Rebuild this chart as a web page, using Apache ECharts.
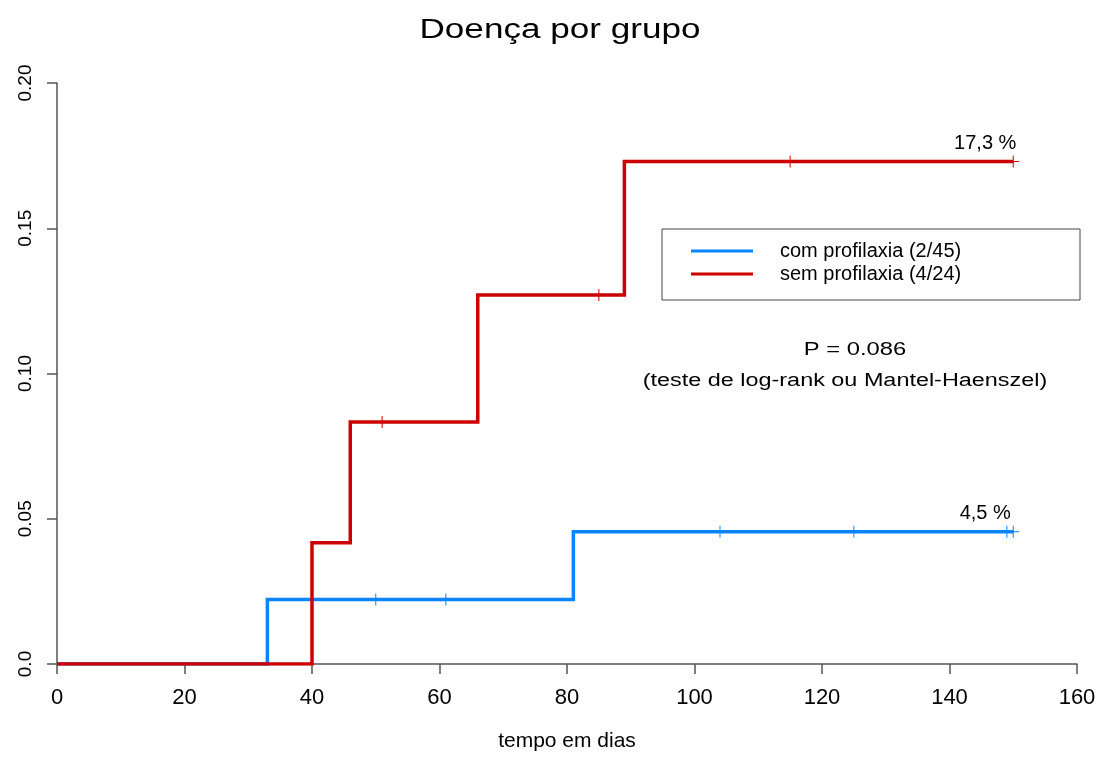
<!DOCTYPE html>
<html>
<head>
<meta charset="utf-8">
<script src="https://cdn.jsdelivr.net/npm/echarts@6/dist/echarts.min.js"></script>
<style>html,body{margin:0;padding:0;background:#fff;overflow:hidden;}#c{width:1104px;height:757px;}</style>
</head>
<body>
<div id="c"></div>
<script>
// Kaplan-Meier cumulative incidence steps
const blueName = 'com profilaxia (2/45)';
const redName = 'sem profilaxia (4/24)';
const blueTimes = [0, 33, 81, 150];
const blueValues = [0, 0.0222, 0.0455, 0.0455];
const redTimes = [0, 40, 46, 66, 89, 150];
const redValues = [0, 0.0417, 0.0833, 0.127, 0.173, 0.173];
// censoring marks
const blueCensorTimes = [50, 61, 104, 125, 149, 150];
const blueCensorValues = [0.0222, 0.0222, 0.0455, 0.0455, 0.0455, 0.0455];
const redCensorTimes = [51, 85, 115, 150];
const redCensorValues = [0.0833, 0.127, 0.173, 0.173];
// axis ticks
const xTicks = [0, 20, 40, 60, 80, 100, 120, 140, 160];
const yTicks = [0, 0.05, 0.10, 0.15, 0.20];
const yTickLabels = ['0.0', '0.05', '0.10', '0.15', '0.20'];
const endLabels = ['4,5 %', '17,3 %'];
const titleText = 'Doença por grupo';
const pText = 'P = 0.086';
const testText = '(teste de log-rank ou Mantel-Haenszel)';

const zip = (a, b) => a.map((v, i) => [v, b[i]]);
const FONT = '"Liberation Sans", Arial, sans-serif';
const BLUE = '#0a84ff';
const RED = '#cc0000';
const TXT = '#000';
const plus = 'path://M5.5,0 L6.5,0 L6.5,5.5 L12,5.5 L12,6.5 L6.5,6.5 L6.5,12 L5.5,12 L5.5,6.5 L0,6.5 L0,5.5 L5.5,5.5 Z';

const chart = echarts.init(document.getElementById('c'), null, {renderer: 'canvas', width: 1104, height: 757});
chart.setOption({
  animation: false,
  backgroundColor: '#fff',
  grid: {left: 57, top: 83, width: 1020, height: 586, containLabel: false},
  legend: {
    data: [blueName, redName],
    orient: 'vertical',
    left: 662,
    top: 229,
    icon: 'rect',
    itemWidth: 62,
    itemHeight: 3,
    itemGap: 3,
    padding: [12, 85, 16, 29],
    borderColor: '#444',
    borderWidth: 1,
    textStyle: {fontFamily: FONT, fontSize: 20, color: TXT, lineHeight: 20, width: 215,
      padding: [0, 0, 0, 22]}
  },
  xAxis: {
    type: 'value',
    min: 0, max: 160, interval: 20,
    name: 'tempo em dias',
    nameLocation: 'middle',
    nameGap: 67,
    nameTextStyle: {fontFamily: FONT, fontSize: 21, color: TXT},
    axisLine: {show: true, onZero: false, lineStyle: {color: '#555', width: 1.5}},
    axisTick: {show: true, length: 10, lineStyle: {color: '#555', width: 1.5}},
    axisLabel: {fontFamily: FONT, fontSize: 22, color: TXT, margin: 23,
      formatter: v => xTicks.includes(v) ? String(v) : ''},
    splitLine: {show: false}
  },
  yAxis: {
    type: 'value',
    min: 0, max: 0.2, interval: 0.05,
    axisLine: {show: true, lineStyle: {color: '#555', width: 1.5}},
    axisTick: {show: true, length: 10, lineStyle: {color: '#555', width: 1.5}},
    axisLabel: {fontFamily: FONT, fontSize: 19, color: TXT, margin: 22, rotate: 90,
      formatter: v => {
        const i = yTicks.findIndex(t => Math.abs(t - v) < 1e-9);
        return i >= 0 ? yTickLabels[i] : '';
      }},
    splitLine: {show: false}
  },
  series: [
    {
      name: blueName, type: 'line', step: 'end',
      data: zip(blueTimes, blueValues),
      showSymbol: false, symbol: 'none',
      color: BLUE,
      lineStyle: {color: BLUE, width: 3.5, join: 'miter'},
      z: 3
    },
    {
      name: redName, type: 'line', step: 'end',
      data: zip(redTimes, redValues),
      showSymbol: false, symbol: 'none',
      color: RED,
      lineStyle: {color: RED, width: 3.5, join: 'miter'},
      z: 4
    },
    {
      name: 'blueCensor', type: 'scatter',
      data: zip(blueCensorTimes, blueCensorValues),
      symbol: plus, symbolSize: 12,
      itemStyle: {color: BLUE, opacity: 1},
      z: 5
    },
    {
      name: 'redCensor', type: 'scatter',
      data: zip(redCensorTimes, redCensorValues),
      symbol: plus, symbolSize: 12,
      itemStyle: {color: RED, opacity: 1},
      z: 6
    },
    {
      name: 'endLabels', type: 'scatter',
      data: [
        {value: [blueTimes[blueTimes.length - 1], blueValues[blueValues.length - 1]], label: {formatter: endLabels[0]}},
        {value: [redTimes[redTimes.length - 1], redValues[redValues.length - 1]], label: {formatter: endLabels[1]}}
      ],
      symbolSize: 0,
      silent: true,
      label: {show: true, position: 'top', distance: 8, offset: [-28, 0],
        fontFamily: FONT, fontSize: 20, color: TXT, opacity: 1},
      z: 7
    }
  ],
  graphic: [
    {type: 'text', x: 560, y: 31, scaleX: 1.3,
      style: {text: titleText, fontFamily: FONT, fontSize: 27, fill: TXT, align: 'center', verticalAlign: 'middle'}},
    {type: 'text', x: 855, y: 350, scaleX: 1.32,
      style: {text: pText, fontFamily: FONT, fontSize: 18, fill: TXT, align: 'center', verticalAlign: 'middle'}},
    {type: 'text', x: 845, y: 381, scaleX: 1.3,
      style: {text: testText, fontFamily: FONT, fontSize: 18, fill: TXT, align: 'center', verticalAlign: 'middle'}}
  ]
});
</script>
</body>
</html>
